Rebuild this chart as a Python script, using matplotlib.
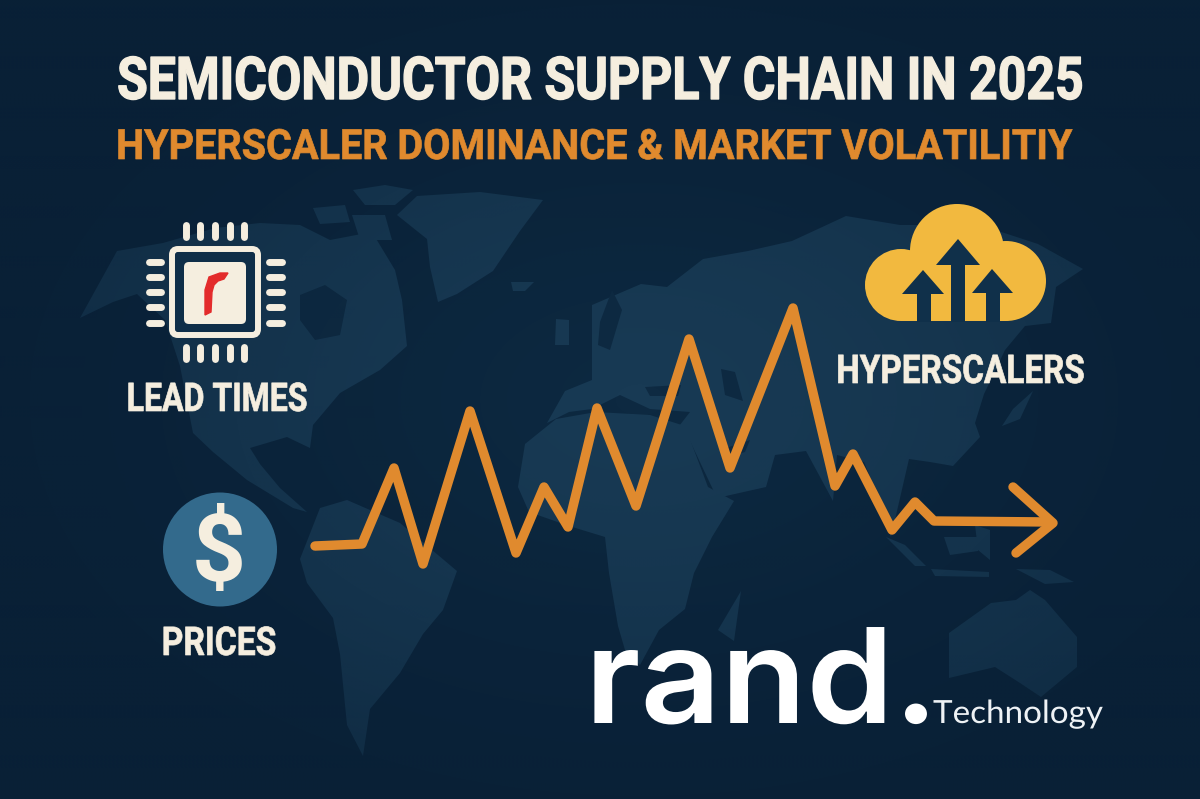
import numpy as np
import matplotlib
matplotlib.use("Agg")
import matplotlib.pyplot as plt
from matplotlib.patches import Polygon, Circle, FancyBboxPatch, Rectangle
from matplotlib.patheffects import AbstractPathEffect
from matplotlib.transforms import Affine2D

# ---- data ----
TITLE = "SEMICONDUCTOR SUPPLY CHAIN IN 2025"
SUBTITLE = "HYPERSCALER DOMINANCE & MARKET VOLATILITIY"
LABELS = ["LEAD TIMES", "PRICES", "HYPERSCALERS"]
trend_x = [315, 362, 394, 423, 470, 516, 544, 568, 597, 636, 689, 730, 793, 835, 853, 892, 915, 934, 1050]
trend_y = [546, 544, 468, 564, 411, 553, 487, 527, 408, 506, 339, 468, 308, 486, 454, 530, 502, 521, 522]
arrow_x = [1013, 1053, 1016]
arrow_y = [487, 523, 553]

north_america = [(80,318),(117,251),(163,243),(215,228),(260,223),(300,225),(330,240),(372,232),(395,270),(402,300),(407,346),(380,370),(340,393),(313,425),(310,448),(287,437),(250,448),(260,464),(280,488),(307,512),(293,508),(247,480),(213,452),(193,433),(180,366),(165,320),(137,294),(113,302)]
arctic_islands = [[(353,190),(385,185),(413,190),(395,205),(365,205)], [(313,208),(345,205),(350,222),(320,224)], [(352,215),(385,215),(392,240),(360,240)]]
greenland = [(397,215),(417,196),(480,192),(543,200),(520,231),(493,271),(457,294),(438,302),(430,267),(427,239)]
south_america = [(300,559),(320,508),(347,500),(400,523),(457,571),(443,610),(423,634),(400,673),(370,709),(363,756),(347,725),(340,654),(333,618),(307,583)]
eurasia = [(547,423),(565,391),(592,380),(592,340),(592,305),(641,284),(667,287),(703,259),(748,251),(792,241),(846,216),(900,225),(980,225),(1038,244),(1083,269),(1056,287),(1051,323),(1025,326),(1005,350),(984,394),(975,423),(980,437),(953,466),(930,462),(909,459),(891,537),(873,484),(864,462),(837,455),(833,501),(806,451),(775,455),(766,487),(717,498),(690,441),(676,430),(690,412),(650,409),(620,395),(592,409),(569,412)]
africa = [(518,487),(525,444),(556,419),(596,412),(650,415),(685,426),(708,487),(734,501),(712,537),(694,573),(685,609),(659,630),(640,665),(625,650),(618,626),(609,573),(605,537),(569,526),(529,512)]
madagascar = [(718,630),(741,591),(734,641)]
australia = [(949,633),(991,603),(1016,600),(1030,590),(1045,600),(1077,637),(1077,667),(1041,697),(1020,683),(995,667),(949,678)]
sumatra = [(886,537),(905,545),(926,566),(915,566)]
borneo = [(944,537),(980,537),(978,551),(950,555)]
java = [(931,569),(989,572),(989,577),(935,576)]
new_guinea = [(1016,569),(1050,570),(1074,582),(1045,584)]
philippines = [(975,525),(990,530),(990,560),(978,550)]
japan = [(1033,391),(1020,419),(1002,426),(1013,409)]
iceland = [(511,282),(534,282),(525,291),(513,291)]
uk = [(556,319),(569,320),(569,345),(555,345)]
land_shapes = [north_america, greenland, south_america, eurasia, africa, madagascar, australia, sumatra,
               borneo, java, new_guinea, philippines, japan, iceland, uk] + arctic_islands
dark_water = [[(300,295),(325,285),(347,300),(340,335),(315,340),(300,320)],
              [(721,369),(735,372),(743,401),(725,395)],
              [(645,387),(681,385),(678,396),(650,396)],
              [(600,322),(612,290),(622,310),(610,350),(598,345)],
              [(720,450),(750,440),(745,452),(725,458)]]

chip_pins = [186, 200, 215, 230, 244]
chip_pins_side = [262, 277, 292, 307, 323]
red_r = [(205,315),(205,290),(209,277),(220,273),(228,273),(224,279),(218,281),(214,285),(212,292),(211,312)]

cloud_circles = [(957, 251, 47), (901, 285, 36), (1006, 281, 40)]
cloud_box = (901, 262, 105, 59)
big_arrows = [(958, 239, 936, 980, 265, 951, 965), (923, 270, 902, 944, 294, 917, 931), (992, 269, 972, 1013, 293, 986, 1000)]

# ---- colours ----
CREAM = "#f5eedf"
ORANGE = "#e08a2e"
GOLD = "#f2b93f"
LAND = "#183a54"
NAVY = "#0f2e48"


class Squeeze(AbstractPathEffect):
    """Scale a text's width about a pixel x and optionally embolden it."""
    def __init__(self, cx, sx, stroke=0.0):
        super().__init__()
        self.cx, self.sx, self.stroke = cx, sx, stroke

    def draw_path(self, renderer, gc, tpath, affine, rgbFace=None):
        t = affine + Affine2D().translate(-self.cx, 0).scale(self.sx, 1).translate(self.cx, 0)
        gc0 = renderer.new_gc()
        gc0.copy_properties(gc)
        if self.stroke > 0:
            gc0.set_linewidth(self.stroke)
            gc0.set_foreground(rgbFace)
        renderer.draw_path(gc0, tpath, t, rgbFace)
        gc0.restore()


fig = plt.figure(figsize=(12, 7.99), dpi=100)
ax = fig.add_axes([0, 0, 1, 1])
ax.set_xlim(0, 1200)
ax.set_ylim(799, 0)
ax.axis("off")

yy, xx = np.mgrid[0:799:200j, 0:1200:300j]
rad = np.sqrt(((xx - 640) / 800) ** 2 + ((yy - 400) / 520) ** 2).clip(0, 1)
c0 = np.array([0x0e, 0x2a, 0x42]) / 255
c1 = np.array([0x09, 0x20, 0x36]) / 255
ax.imshow(c0 + (c1 - c0) * rad[..., None], extent=(0, 1200, 799, 0), aspect="auto", zorder=0, interpolation="bilinear")
ax.set_xlim(0, 1200)
ax.set_ylim(799, 0)

for shape in land_shapes:
    ax.add_patch(Polygon(shape, closed=True, fc=LAND, ec="none", zorder=1))
for shape in dark_water:
    ax.add_patch(Polygon(shape, closed=True, fc="#0e2a42", ec="none", zorder=1.1))
# vignette over the land
vig = np.zeros(rad.shape + (4,))
vig[..., :3] = c1
vig[..., 3] = (rad ** 1.5 * 0.75).clip(0, 0.75)
ax.imshow(vig, extent=(0, 1200, 799, 0), aspect="auto", zorder=1.5, interpolation="bilinear")
ax.set_xlim(0, 1200)
ax.set_ylim(799, 0)

# chip
for p in chip_pins:
    for y0, y1 in [(222, 240), (344, 362)]:
        ax.plot([p, p], [y0 + 3, y1 - 3], color=CREAM, lw=5, solid_capstyle="round", zorder=3)
for p in chip_pins_side:
    for x0, x1 in [(146, 164), (266, 285)]:
        ax.plot([x0 + 3, x1 - 3], [p, p], color=CREAM, lw=5, solid_capstyle="round", zorder=3)
ax.add_patch(FancyBboxPatch((172, 249), 86, 86, boxstyle="round,pad=0,rounding_size=6", fc=NAVY, ec=CREAM, lw=4.3, zorder=3))
ax.add_patch(FancyBboxPatch((184, 262), 62, 62, boxstyle="round,pad=0,rounding_size=5", fc=CREAM, ec="none", zorder=4))
ax.add_patch(Polygon(red_r, closed=True, fc="#e32b2b", ec="#e32b2b", lw=1, zorder=5))

# price badge
ax.add_patch(Circle((220, 549.5), 57, fc="#336a8c", ec="none", zorder=3))
ax.text(219, 555, "$", color=CREAM, fontsize=68, family="Roboto", weight="bold", ha="center", va="center", zorder=4)

# cloud
for cx, cy, r in cloud_circles:
    ax.add_patch(Circle((cx, cy), r, fc=GOLD, ec="none", zorder=3))
ax.add_patch(Rectangle(cloud_box[:2], cloud_box[2], cloud_box[3], fc=GOLD, ec="none", zorder=3))
for ax_x, ax_y, wl, wr, wy, sl, sr in big_arrows:
    ax.add_patch(Polygon([(ax_x, ax_y), (wr, wy), (sr, wy), (sr, 322), (sl, 322), (sl, wy), (wl, wy)],
                         closed=True, fc="#10304a", ec="none", zorder=4))

# trend line
ax.plot(trend_x, trend_y, color=ORANGE, lw=6.8, solid_capstyle="round", solid_joinstyle="round", zorder=5)
ax.plot(arrow_x, arrow_y, color=ORANGE, lw=6.8, solid_capstyle="round", solid_joinstyle="round", zorder=5)


# text
def label(x, y, s, size, sx, color=CREAM, stroke=0.5):
    t = ax.text(x, y, s, color=color, fontsize=size, family="Roboto", weight="bold", ha="center", va="baseline", zorder=6)
    t.set_path_effects([Squeeze(x, sx, stroke)])


label(600, 99, TITLE, 42.5, 0.846, stroke=1.0)
label(593.5, 159, SUBTITLE, 30, 0.95, color=ORANGE, stroke=0.5)
label(217, 411, LABELS[0], 28.5, 0.81)
label(219, 655, LABELS[1], 28.5, 0.85)
label(960.5, 383, LABELS[2], 28.5, 0.84)

brand = ax.text(585, 723, "rand.", color="white", fontsize=95, family="Inter", weight="semibold", ha="left", va="baseline", zorder=6)
brand.set_path_effects([Squeeze(585, 1.06)])
tech = ax.text(933, 723, "Technology", color="#eef2f5", fontsize=23, family="Lato", ha="left", va="baseline", zorder=6)
tech.set_path_effects([Squeeze(933, 1.04)])

fig.savefig("out.png", dpi=100)
